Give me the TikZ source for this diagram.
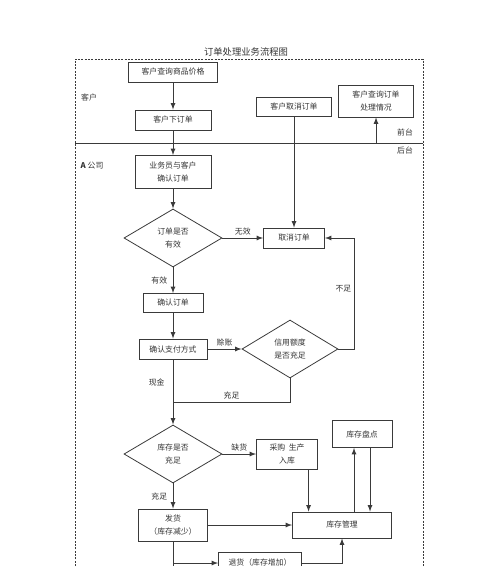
\documentclass[tikz,border=0pt]{standalone}
\usepackage{fontspec}
\setmainfont{Noto Sans CJK SC}
\usetikzlibrary{shapes.geometric}
\definecolor{linec}{HTML}{3A3A3A}
\definecolor{textc}{HTML}{333333}
\tikzset{
  box/.style={draw=linec, line width=0.6pt, inner sep=0pt, align=center, text=textc, font=\fontsize{5.9}{9.5}\selectfont},
  dia/.style={diamond, draw=linec, line width=0.6pt, inner sep=0pt, align=center, text=textc, font=\fontsize{5.9}{9.5}\selectfont},
  lab/.style={text=textc, inner sep=2pt, font=\fontsize{5.9}{7}\selectfont},
  line/.style={draw=linec, line width=0.7pt},
  conn/.style={line, ->, >=latex}
}

\begin{document}
\begin{tikzpicture}[x=0.75pt, y=-0.75pt]
\useasboundingbox (0,0) rectangle (500,566);
\node[lab, font=\fontsize{7}{8}\selectfont] (title) at (246,52) {订单处理业务流程图};
\draw[linec, line width=0.5pt, dash pattern=on 1.5pt off 1pt] (75,566) -- (75,59) -- (423,59) -- (423,566);
\draw[line] (75,143) -- (423,143);
\node[lab] (kh) at (89,98) {客户};
\node[lab] (gs) at (92,166) {\textbf{A} 公司};
\node[lab] (qt) at (405,132) {前台};
\node[lab] (ht) at (405,151) {后台};
% nodes
\node[box, minimum width=66.75pt, minimum height=15pt] (cxjg) at (173,72) {客户查询商品价格};
\node[box, minimum width=57pt, minimum height=15pt] (xdd) at (173,120) {客户下订单};
\node[box, minimum width=56.25pt, minimum height=14.25pt] (qxdd) at (294,107) {客户取消订单};
\node[box, minimum width=56.25pt, minimum height=24pt] (cxdd) at (376,101) {客户查询订单\\处理情况};
\node[box, minimum width=57pt, minimum height=24.75pt] (qrdd) at (173,172) {业务员与客户\\确认订单};
\node[dia, minimum width=73.5pt, minimum height=43.5pt] (yx) at (173,238) {订单是否\\有效};
\node[box, minimum width=45.75pt, minimum height=15pt] (qx) at (294,238) {取消订单};
\node[box, minimum width=45pt, minimum height=14.25pt] (qr) at (173,303) {确认订单};
\node[box, minimum width=51pt, minimum height=15pt] (zf) at (173,349) {确认支付方式};
\node[dia, minimum width=72pt, minimum height=43.5pt] (xy) at (290,349) {信用额度\\是否充足};
\node[dia, minimum width=73.5pt, minimum height=43.5pt] (kc) at (173,454) {库存是否\\充足};
\node[box, minimum width=45.75pt, minimum height=22.5pt] (cg) at (287,454) {采购\ \ 生产\\入库};
\node[box, minimum width=45pt, minimum height=20.25pt] (pd) at (362,434) {库存盘点};
\node[box, minimum width=74.25pt, minimum height=19.5pt] (gl) at (342,525) {库存管理};
\node[box, minimum width=51.75pt, minimum height=24pt] (fh) at (173,525) {发货\\（库存减少）};
\node[box, minimum width=62.25pt, minimum height=16.5pt] (th) at (260,563) {退货（库存增加）};
\coordinate (sep) at (376,143);
\coordinate (hb) at (173,402);
\coordinate (dn) at (173,572);
% connectors
\draw[conn] (cxjg) -- (xdd);
\draw[conn] (xdd) -- (qrdd);
\draw[conn] (qrdd) -- (yx);
\draw[conn] (sep) -- (cxdd);
\draw[conn] (qxdd) -- (qx);
\draw[conn] (yx) -- node[lab, above]{无效} (qx);
\draw[conn] (yx) -- node[lab, left, xshift=-2pt]{有效} (qr);
\draw[conn] (qr) -- (zf);
\draw[conn] (zf) -- node[lab, above]{赊账} (xy);
\draw[conn] (xy.east) -- ++(16,0) |- node[lab, left, pos=0.27]{不足} (qx.east);
\draw[conn] (zf) -- node[lab, left, pos=0.35, xshift=-4pt]{现金} (kc);
\draw[line] (xy.south) |- node[lab, above, pos=0.75]{充足} (hb);
\draw[conn] (kc) -- node[lab, above]{缺货} (cg);
\draw[conn] (kc) -- node[lab, left, xshift=-2pt]{充足} (fh);
\draw[conn] ([xshift=-7pt]cg.south east) -- ([xshift=-7pt]cg.south east |- gl.north);
\draw[conn] ([xshift=-6pt]pd.south |- gl.north) -- ([xshift=-6pt]pd.south);
\draw[conn] ([xshift=6pt]pd.south) -- ([xshift=6pt]pd.south |- gl.north);
\draw[conn] (fh) -- (gl);
\draw[conn] (fh.south) |- (th.west);
\draw[line] (fh.south) -- (dn);
\draw[conn] (th.east) -| (gl.south);
\end{tikzpicture}
\end{document}
